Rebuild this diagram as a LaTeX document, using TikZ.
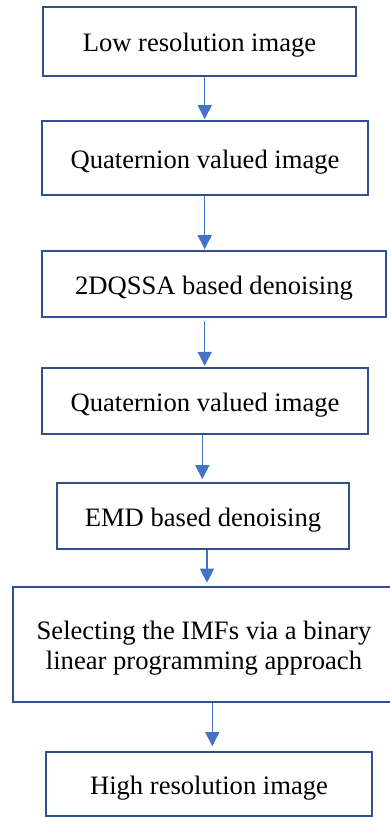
\documentclass[tikz,border=0pt]{standalone}
\usepackage{fontspec}
\setmainfont{Liberation Serif}
\usetikzlibrary{arrows.meta}
\definecolor{boxline}{HTML}{2F528F}
\definecolor{arrowblue}{HTML}{4472C4}
\tikzset{
  box/.style={draw=boxline, line width=1.6pt, fill=white, inner sep=0pt,
    align=center, font=\fontsize{26.6}{30}\selectfont,
    text height=22pt, text depth=2pt},
  twoline/.style={text height=20pt, text depth=30.4pt},
  flow/.style={draw=arrowblue, line width=1.1pt,
    -{Triangle[width=14pt,length=14pt]}, arrowblue}
}
\begin{document}
\begin{tikzpicture}[x=1pt,y=-1pt]
\useasboundingbox (0,0) rectangle (389,817);

\node[box, minimum width=313pt, minimum height=69pt] (n1) at (199.5,41.5) {Low resolution image};
\node[box, minimum width=326pt, minimum height=74pt] (n2) at (205,158) {Quaternion valued image};
\node[box, minimum width=344pt, minimum height=66pt] (n3) at (214,284) {2DQSSA based denoising};
\node[box, minimum width=326pt, minimum height=66pt] (n4) at (205,401) {Quaternion valued image};
\node[box, minimum width=292pt, minimum height=66pt] (n5) at (203,516) {EMD based denoising};
\node[box, twoline, minimum width=382pt, minimum height=115pt] (n6) at (204,644.5)
  {\begin{tabular}[t]{@{}c@{}}Selecting the IMFs via a binary\\linear programming approach\end{tabular}};
\node[box, minimum width=326pt, minimum height=64pt] (n7) at (209,784) {High resolution image};

\draw[flow] ([xshift=5.2pt]n1.south) -- ([xshift=-0.3pt,yshift=1pt]n2.north);
\draw[flow] ([xshift=-0.3pt]n2.south) -- ([xshift=-9.3pt,yshift=1pt]n3.north);
\draw[flow] ([xshift=-9.3pt,yshift=-3.5pt]n3.south) -- ([xshift=-0.3pt,yshift=1.3pt]n4.north);
\draw[flow] ([xshift=-2.7pt]n4.south) -- ([xshift=-0.7pt,yshift=3pt]n5.north);
\draw[flow] ([xshift=4pt]n5.south) -- ([xshift=3pt,yshift=3.5pt]n6.north);
\draw[flow] ([xshift=8.3pt]n6.south) -- ([xshift=3.3pt,yshift=5pt]n7.north);
\end{tikzpicture}
\end{document}
